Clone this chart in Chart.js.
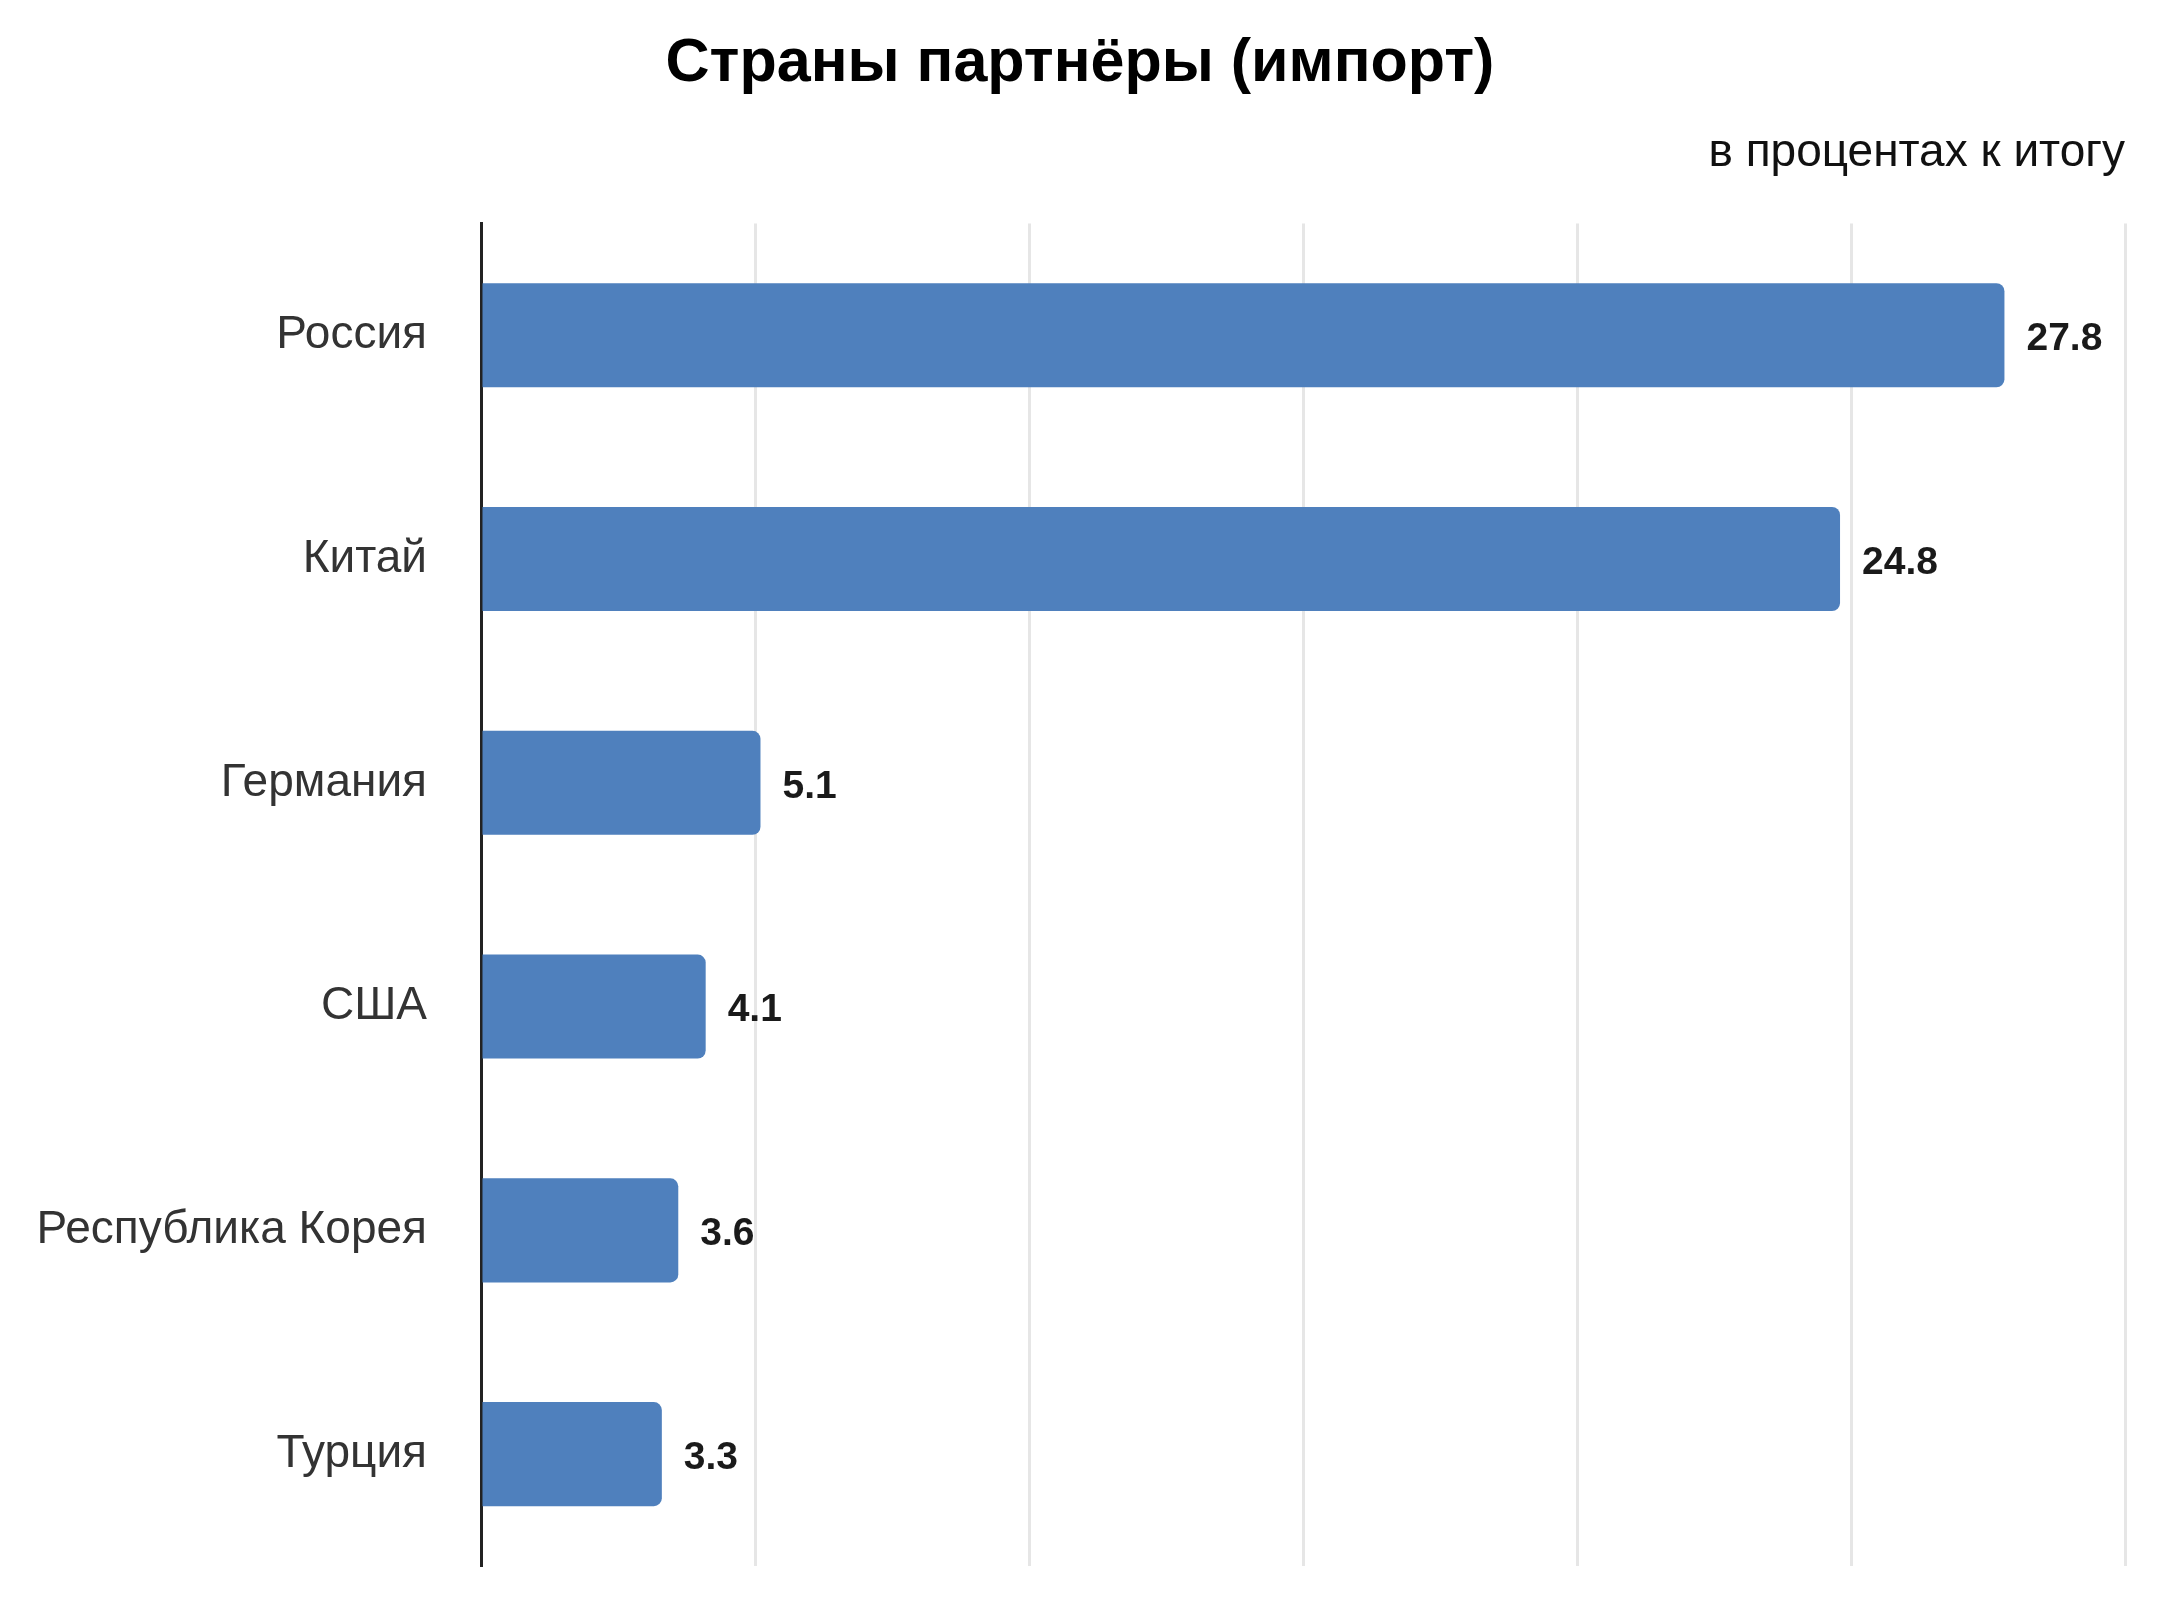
<!DOCTYPE html>
<html lang="ru">
<head>
<meta charset="utf-8">
<title>Страны партнёры (импорт)</title>
<script src="https://cdn.jsdelivr.net/npm/chart.js@4/dist/chart.umd.min.js"></script>
<style>
  html, body { margin: 0; padding: 0; background: #fff; }
  #wrap { width: 2160px; height: 1620px; }
</style>
</head>
<body>
<div id="wrap"><canvas id="chart-import" width="2160" height="1620"></canvas></div>
<script>
// Data
const countries = ["Россия", "Китай", "Германия", "США", "Республика Корея", "Турция"];
const shares = [27.8, 24.8, 5.1, 4.1, 3.6, 3.3];
const axisMax = 30;
const axisStep = 5;

const FONT = "'Liberation Sans', Arial, sans-serif";
const BAR_COLOR = "#4f80bd";

// Value labels to the right of each bar
const valueLabels = {
  id: "valueLabels",
  afterDatasetsDraw(chart) {
    const { ctx } = chart;
    const meta = chart.getDatasetMeta(0);
    ctx.save();
    ctx.font = `bold 39px ${FONT}`;
    ctx.fillStyle = "#1a1a1a";
    ctx.textAlign = "left";
    ctx.textBaseline = "middle";
    meta.data.forEach((bar, i) => {
      ctx.fillText(shares[i].toFixed(1), bar.x + 22, bar.y + 4);
    });
    ctx.restore();
  }
};

new Chart(document.getElementById("chart-import").getContext("2d"), {
  type: "bar",
  data: {
    labels: countries,
    datasets: [{
      data: shares,
      backgroundColor: BAR_COLOR,
      borderRadius: 8,
      borderSkipped: "start",
      categoryPercentage: 1,
      barPercentage: 0.465
    }]
  },
  options: {
    indexAxis: "y",
    responsive: false,
    animation: false,
    // equal side padding keeps the title centred on the canvas
    layout: { padding: { left: 35, right: 35, top: 0, bottom: 54 } },
    plugins: {
      legend: { display: false },
      tooltip: { enabled: false },
      title: {
        display: true,
        text: "Страны партнёры (импорт)",
        color: "#000",
        font: { family: FONT, size: 61, weight: "bold" },
        padding: { top: 28, bottom: 10 }
      },
      subtitle: {
        display: true,
        text: "в процентах к итогу",
        align: "end",
        color: "#111",
        font: { family: FONT, size: 46 },
        padding: { top: 15, bottom: 42 }
      }
    },
    scales: {
      x: {
        min: 0,
        max: axisMax,
        ticks: { display: false, stepSize: axisStep },
        grid: { color: "#e6e6e6", lineWidth: 3, drawTicks: false },
        border: { display: false },
        afterFit(scale) { scale.height = 0; }
      },
      y: {
        ticks: { color: "#333", font: { family: FONT, size: 46 }, padding: 54 },
        grid: { display: false, drawTicks: false },
        border: { display: true, color: "#222", width: 3 },
        afterFit(scale) {
          scale.width = 446;
          // tick padding would otherwise also be reserved above/below the plot
          scale.paddingTop = 0;
          scale.paddingBottom = 0;
        }
      }
    }
  },
  plugins: [valueLabels]
});
</script>
</body>
</html>
